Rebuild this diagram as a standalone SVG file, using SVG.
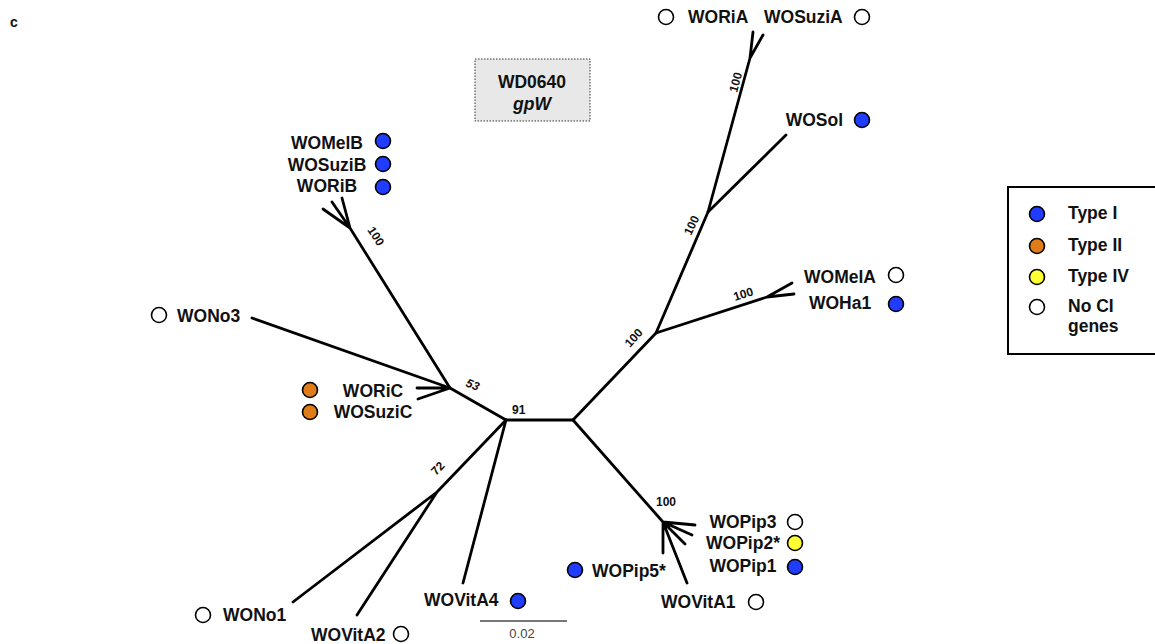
<svg xmlns="http://www.w3.org/2000/svg" width="1155" height="644" viewBox="0 0 1155 644">
<style>
.lbl{font-family:"Liberation Sans",Arial,sans-serif;font-weight:bold;font-size:17.5px;fill:#111}
.bs{font-family:"Liberation Sans",Arial,sans-serif;font-weight:bold;font-size:12px;fill:#111}
.br{fill:none;stroke:#000;stroke-width:2.8;stroke-linecap:round;stroke-linejoin:round}
.c{stroke:#000;stroke-width:1.6}
.t1{fill:#1f3cff}.t2{fill:#e07b1a}.t4{fill:#ffff33}.t0{fill:#fff}
</style>
<rect width="1155" height="644" fill="#fff"/>
<text x="10" y="27" class="lbl" style="font-size:14px">c</text>

<g id="title">
<rect x="475" y="59" width="115" height="62" fill="#e8e8e8" stroke="#333" stroke-width="1" stroke-dasharray="1.5,1.5"/>
<text x="532" y="88" class="lbl" text-anchor="middle">WD0640</text>
<text x="532" y="110" class="lbl" text-anchor="middle" font-style="italic">gpW</text>
</g>

<g id="connectors">
<path class="br" d="M506,420 L573,420"/>
<path class="br" d="M573,420 L656,333 L708,212 L750,58 L753,32 M750,58 L763,35"/>
<path class="br" d="M708,212 L786,135"/>
<path class="br" d="M656,333 L767,297 L792,283 M767,297 L794,294"/>
<path class="br" d="M573,420 L663,522 L695,525 M663,522 L692,535 M663,522 L685,544 M663,522 L663,553 M663,522 L687,583"/>
<path class="br" d="M506,420 L450,388 L350,228 L323,209 M350,228 L332,202 M350,228 L342,198"/>
<path class="br" d="M450,388 L252,318 M450,388 L417,388 M450,388 L418,399"/>
<path class="br" d="M506,420 L437,492 L293,602 M437,492 L357,615"/>
<path class="br" d="M506,420 L463,583"/>
</g>

<g id="bootstraps">
<text class="bs" transform="translate(737,93) rotate(-75)">100</text>
<text class="bs" transform="translate(691,236) rotate(-65)">100</text>
<text class="bs" transform="translate(630,348) rotate(-48)">100</text>
<text class="bs" transform="translate(735,301) rotate(-18)">100</text>
<text class="bs" transform="translate(367,230) rotate(57)">100</text>
<text class="bs" font-style="italic" transform="translate(465,386) rotate(22)">53</text>
<text class="bs" x="512" y="414">91</text>
<text class="bs" font-weight="normal" transform="translate(436,476) rotate(-46)">72</text>
<text class="bs" x="656" y="506">100</text>
</g>

<g id="WORiA"><circle class="c t0" cx="666" cy="17" r="7.5"/><text class="lbl" x="688" y="23">WORiA</text></g>
<g id="WOSuziA"><text class="lbl" x="764" y="23">WOSuziA</text><circle class="c t0" cx="862" cy="17" r="7.5"/></g>
<g id="WOSol"><text class="lbl" x="843" y="126" text-anchor="end">WOSol</text><circle class="c t1" cx="862" cy="120" r="7.5"/></g>
<g id="WOMelA"><text class="lbl" x="840" y="283" text-anchor="middle">WOMelA</text><circle class="c t0" cx="896" cy="275" r="7.5"/></g>
<g id="WOHa1"><text class="lbl" x="840" y="309" text-anchor="middle">WOHa1</text><circle class="c t1" cx="896" cy="304" r="7.5"/></g>
<g id="WOMelB"><text class="lbl" x="327" y="149" text-anchor="middle">WOMelB</text><circle class="c t1" cx="383" cy="141" r="7.5"/></g>
<g id="WOSuziB"><text class="lbl" x="327" y="171" text-anchor="middle">WOSuziB</text><circle class="c t1" cx="383" cy="164" r="7.5"/></g>
<g id="WORiB"><text class="lbl" x="327" y="192" text-anchor="middle">WORiB</text><circle class="c t1" cx="383" cy="187" r="7.5"/></g>
<g id="WONo3"><circle class="c t0" cx="159" cy="315" r="7.5"/><text class="lbl" x="177" y="322">WONo3</text></g>
<g id="WORiC"><circle class="c t2" cx="310" cy="390" r="7.5"/><text class="lbl" x="373" y="397" text-anchor="middle">WORiC</text></g>
<g id="WOSuziC"><circle class="c t2" cx="310" cy="412" r="7.5"/><text class="lbl" x="373" y="418" text-anchor="middle">WOSuziC</text></g>
<g id="WONo1"><circle class="c t0" cx="203" cy="615" r="7.5"/><text class="lbl" x="223" y="621">WONo1</text></g>
<g id="WOVitA2"><text class="lbl" x="311" y="641">WOVitA2</text><circle class="c t0" cx="401" cy="634" r="7.5"/></g>
<g id="WOVitA4"><text class="lbl" x="424" y="606">WOVitA4</text><circle class="c t1" cx="518" cy="601" r="7.5"/></g>
<g id="WOPip3"><text class="lbl" x="743" y="528" text-anchor="middle">WOPip3</text><circle class="c t0" cx="795" cy="522" r="7.5"/></g>
<g id="WOPip2"><text class="lbl" x="743" y="549" text-anchor="middle">WOPip2*</text><circle class="c t4" cx="795" cy="543" r="7.5"/></g>
<g id="WOPip1"><text class="lbl" x="743" y="572" text-anchor="middle">WOPip1</text><circle class="c t1" cx="795" cy="567" r="7.5"/></g>
<g id="WOPip5"><circle class="c t1" cx="575" cy="570" r="7.5"/><text class="lbl" x="592" y="577">WOPip5*</text></g>
<g id="WOVitA1"><text class="lbl" x="661" y="608">WOVitA1</text><circle class="c t0" cx="756" cy="602" r="7.5"/></g>

<g id="scale">
<line x1="480" y1="621" x2="567" y2="621" stroke="#777" stroke-width="2"/>
<text x="522" y="638" text-anchor="middle" font-family="'Liberation Sans',Arial,sans-serif" font-size="13" fill="#444">0.02</text>
</g>

<g id="legend">
<rect x="1008" y="187" width="160" height="167" fill="#fff" stroke="#000" stroke-width="2"/>
<circle class="c t1" cx="1037" cy="214" r="7.5"/><text class="lbl" x="1068" y="219">Type I</text>
<circle class="c t2" cx="1037" cy="246" r="7.5"/><text class="lbl" x="1068" y="251">Type II</text>
<circle class="c t4" cx="1037" cy="277" r="7.5"/><text class="lbl" x="1068" y="282">Type IV</text>
<circle class="c t0" cx="1037" cy="307" r="7.5"/><text class="lbl" x="1068" y="312">No CI</text>
<text class="lbl" x="1068" y="332">genes</text>
</g>
</svg>
